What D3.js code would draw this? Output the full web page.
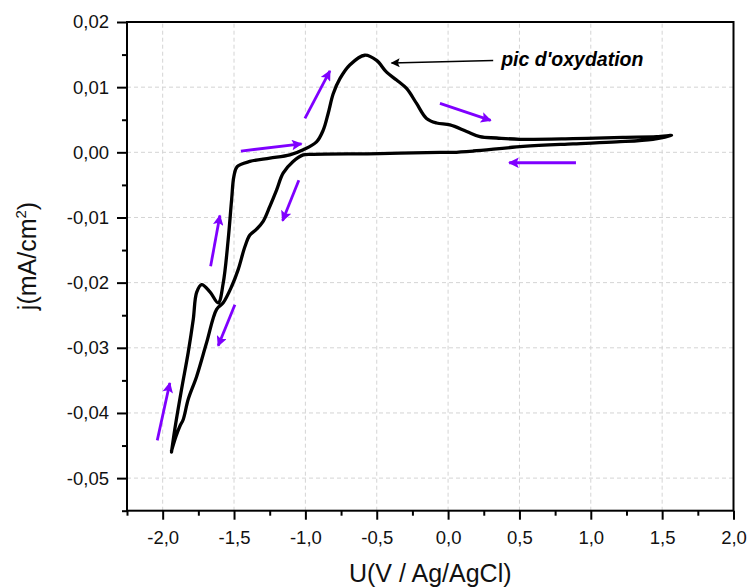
<!DOCTYPE html>
<html>
<head>
<meta charset="utf-8">
<script src="https://cdn.jsdelivr.net/npm/d3@7"></script>
<style>
  body { margin: 0; background: #fff; }
  svg { display: block; font-family: 'Liberation Sans', Arial, sans-serif; }
</style>
</head>
<body>
<div id="chart"></div>
<script>
// Forward (anodic) scan: U in V, j in mA/cm2
const forwardU = [-1.938, -1.915, -1.868, -1.821, -1.786, -1.762, -1.727, -1.669, -1.611, -1.576,
  -1.541, -1.517, -1.501, -1.478, -1.389, -1.249, -1.109, -1.015, -0.922, -0.875, -0.840, -0.805,
  -0.758, -0.689, -0.584, -0.501, -0.431, -0.361, -0.291, -0.221, -0.151, -0.081, 0.013, 0.130,
  0.223, 0.340, 0.503, 0.875, 1.225, 1.461, 1.566];
const forwardJ = [-0.0460, -0.0425, -0.0364, -0.0307, -0.0257, -0.0215, -0.0203, -0.0214, -0.0231, -0.0201,
  -0.0134, -0.0073, -0.0037, -0.0022, -0.0014, -0.0009, -0.0004, 0.0004, 0.0016, 0.0034, 0.0060, 0.0090,
  0.0113, 0.0134, 0.0149, 0.0141, 0.0123, 0.0111, 0.0098, 0.0075, 0.0052, 0.0045, 0.0042, 0.0032,
  0.0024, 0.0022, 0.0020, 0.0021, 0.0023, 0.0024, 0.0026];

// Reverse (cathodic) scan
const reverseU = [1.566, 1.435, 1.181, 0.875, 0.526, 0.176, 0.034, -0.057, -0.478, -0.947, -1.015,
  -1.086, -1.156, -1.202, -1.249, -1.296, -1.342, -1.389, -1.424, -1.471, -1.517, -1.576, -1.622,
  -1.692, -1.762, -1.821, -1.856, -1.879, -1.907, -1.938];
const reverseJ = [0.0026, 0.0020, 0.0016, 0.0013, 0.0009, 0.0002, 0.0000, 0.0000, -0.0002, -0.0003, -0.0004,
  -0.0014, -0.0032, -0.0058, -0.0083, -0.0106, -0.0118, -0.0127, -0.0145, -0.0180, -0.0206, -0.0231, -0.0241,
  -0.0292, -0.0344, -0.0379, -0.0410, -0.0420, -0.0436, -0.0458];

// Scan direction arrows: [U tail, j tail, U head, j head]
const scanArrows = [
  [-2.038, -0.0442, -1.950, -0.0354],
  [-1.664, -0.0175, -1.599, -0.0097],
  [-1.452, 0.0002, -1.027, 0.0013],
  [-1.003, 0.0052, -0.828, 0.0125],
  [-0.057, 0.0075, 0.298, 0.0049],
  [0.896, -0.0016, 0.428, -0.0016],
  [-1.046, -0.0043, -1.160, -0.0105],
  [-1.494, -0.0234, -1.611, -0.0297]
];

const peakLabel = "pic d'oxydation";
const peakArrow = [0.316, 0.0141, -0.396, 0.0137];

const xMajor = [-2.0, -1.5, -1.0, -0.5, 0.0, 0.5, 1.0, 1.5, 2.0];
const xMinor = [-2.25, -1.75, -1.25, -0.75, -0.25, 0.25, 0.75, 1.25, 1.75];
const yMajor = [-0.05, -0.04, -0.03, -0.02, -0.01, 0.00, 0.01, 0.02];
const yMinor = [-0.055, -0.045, -0.035, -0.025, -0.015, -0.005, 0.005, 0.015];

const W = 748, H = 588;
const margin = { top: 22, right: 14.5, bottom: 77.3, left: 127 };

const locale = d3.formatLocale({ decimal: ',', thousands: '.', grouping: [3], currency: ['', ''], minus: '-' });

const svg = d3.select('#chart').append('svg')
  .attr('width', W)
  .attr('height', H);

const x = d3.scaleLinear().domain([-2.25, 2.0]).range([margin.left, W - margin.right]);
const y = d3.scaleLinear().domain([-0.055, 0.02]).range([H - margin.bottom, margin.top]);

// grid
const grid = svg.append('g')
  .attr('stroke', '#d4d4d4')
  .attr('stroke-width', 1)
  .attr('stroke-dasharray', '4,3');
grid.selectAll('.gx').data(xMajor.slice(0, -1)).enter().append('line')
  .attr('x1', (d) => x(d)).attr('x2', (d) => x(d))
  .attr('y1', y.range()[0]).attr('y2', y.range()[1]);
grid.selectAll('.gy').data(yMajor.slice(0, -1)).enter().append('line')
  .attr('x1', x.range()[0]).attr('x2', x.range()[1])
  .attr('y1', (d) => y(d)).attr('y2', (d) => y(d));

// axes
svg.append('g')
  .attr('transform', `translate(0, ${y.range()[0]})`)
  .call(d3.axisBottom(x).tickValues(xMajor).tickSize(9).tickPadding(11).tickFormat(locale.format('.1f')));
svg.append('g')
  .attr('transform', `translate(0, ${y.range()[0]})`)
  .call(d3.axisBottom(x).tickValues(xMinor).tickSize(5).tickFormat(''));

svg.append('g')
  .attr('transform', `translate(${x.range()[0]}, 0)`)
  .call(d3.axisLeft(y).tickValues(yMajor).tickSize(10).tickPadding(8).tickFormat(locale.format('.2f')));
svg.append('g')
  .attr('transform', `translate(${x.range()[0]}, 0)`)
  .call(d3.axisLeft(y).tickValues(yMinor).tickSize(5).tickFormat(''));

svg.selectAll('.domain').remove();
svg.selectAll('.tick line').attr('stroke', '#000').attr('stroke-width', 2);
svg.selectAll('.tick text')
  .attr('fill', '#111')
  .style('font-size', '18.5px')
  .style('font-family', "'Liberation Sans', Arial, sans-serif");

// frame
svg.append('rect')
  .attr('x', x.range()[0]).attr('y', y.range()[1])
  .attr('width', x.range()[1] - x.range()[0])
  .attr('height', y.range()[0] - y.range()[1])
  .attr('fill', 'none')
  .attr('stroke', '#000')
  .attr('stroke-width', 2);

// curve
const line = d3.line()
  .x((d) => x(d[0]))
  .y((d) => y(d[1]))
  .curve(d3.curveCatmullRom.alpha(0.5));

const forward = forwardU.map((u, i) => [u, forwardJ[i]]);
const reverse = reverseU.map((u, i) => [u, reverseJ[i]]);

svg.append('path')
  .datum(forward.concat(reverse.slice(1)))
  .attr('d', line)
  .attr('fill', 'none')
  .attr('stroke', '#000')
  .attr('stroke-width', 3.3)
  .attr('stroke-linejoin', 'round')
  .attr('stroke-linecap', 'round');

// arrow heads
const defs = svg.append('defs');
defs.append('marker')
  .attr('id', 'violet-head')
  .attr('viewBox', '0 0 10 10')
  .attr('refX', 9).attr('refY', 5)
  .attr('markerWidth', 4.6).attr('markerHeight', 3.8)
  .attr('markerUnits', 'strokeWidth')
  .attr('orient', 'auto')
  .append('path')
  .attr('d', 'M0,0 L10,5 L0,10 L2,5 Z')
  .attr('fill', '#7f00ff');

defs.append('marker')
  .attr('id', 'black-head')
  .attr('viewBox', '0 0 10 10')
  .attr('refX', 9).attr('refY', 5)
  .attr('markerWidth', 8).attr('markerHeight', 6)
  .attr('markerUnits', 'strokeWidth')
  .attr('orient', 'auto')
  .append('path')
  .attr('d', 'M0,0 L10,5 L0,10 L2,5 Z')
  .attr('fill', '#000');

svg.append('g').selectAll('line').data(scanArrows).enter().append('line')
  .attr('x1', (d) => x(d[0])).attr('y1', (d) => y(d[1]))
  .attr('x2', (d) => x(d[2])).attr('y2', (d) => y(d[3]))
  .attr('stroke', '#7f00ff')
  .attr('stroke-width', 2.8)
  .attr('marker-end', 'url(#violet-head)');

// annotation
svg.append('line')
  .attr('x1', x(peakArrow[0])).attr('y1', y(peakArrow[1]))
  .attr('x2', x(peakArrow[2])).attr('y2', y(peakArrow[3]))
  .attr('stroke', '#000')
  .attr('stroke-width', 1.5)
  .attr('marker-end', 'url(#black-head)');

svg.append('text')
  .attr('x', x(peakArrow[0]) + 8)
  .attr('y', y(peakArrow[1]) + 6)
  .attr('fill', '#000')
  .style('font-size', '19.5px')
  .style('font-weight', 'bold')
  .style('font-style', 'italic')
  .text(peakLabel);

// axis titles
svg.append('text')
  .attr('x', (x.range()[0] + x.range()[1]) / 2)
  .attr('y', 582)
  .attr('text-anchor', 'middle')
  .attr('fill', '#111')
  .style('font-size', '25px')
  .text('U(V / Ag/AgCl)');

const yTitle = svg.append('text')
  .attr('transform', 'translate(36, 256) rotate(-90)')
  .attr('text-anchor', 'middle')
  .attr('fill', '#111')
  .style('font-size', '25px');
yTitle.append('tspan').text('j(mA/cm');
yTitle.append('tspan').attr('dy', -10).style('font-size', '15px').text('2');
yTitle.append('tspan').attr('dy', 10).text(')');
</script>
</body>
</html>
